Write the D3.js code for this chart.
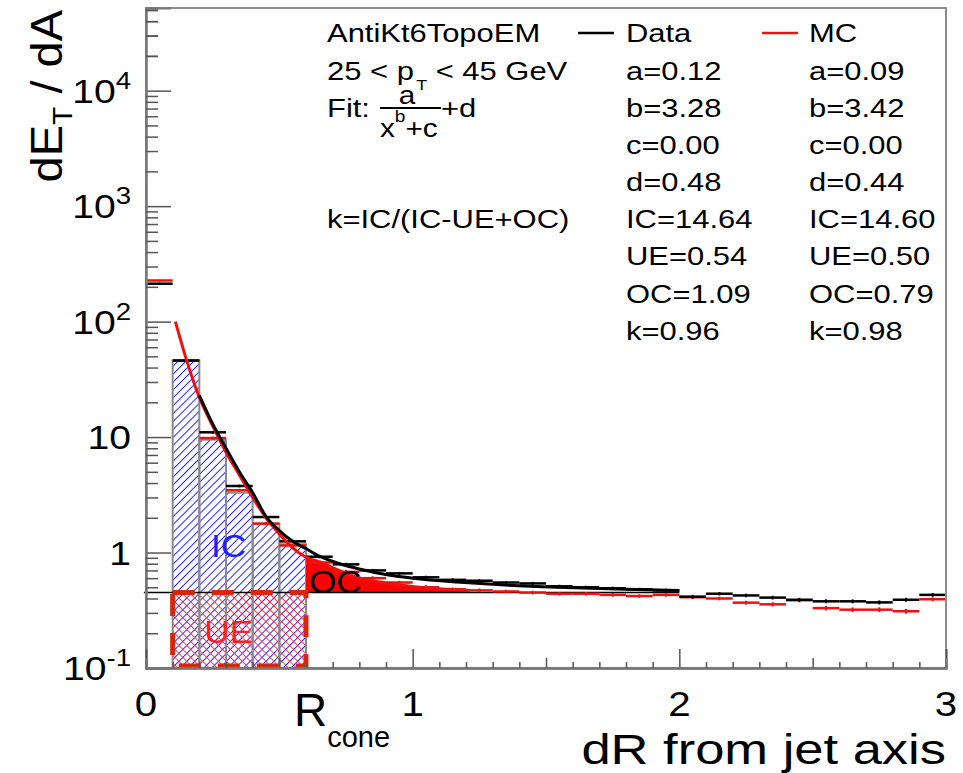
<!DOCTYPE html>
<html>
<head>
<meta charset="utf-8">
<script src="https://cdn.jsdelivr.net/npm/d3@7/dist/d3.min.js"></script>
<style>
body { margin: 0; background: #fff; }
text { font-family: "Liberation Sans", Arial, Helvetica, sans-serif; }
</style>
</head>
<body>
<svg id="chart" width="963" height="773"></svg>
<script>
// bins in dR (lower edges), width 0.1
const binLow = [0.0, 0.1, 0.2, 0.3, 0.4, 0.5, 0.6, 0.7, 0.8, 0.9,
                1.0, 1.1, 1.2, 1.3, 1.4, 1.5, 1.6, 1.7, 1.8, 1.9,
                2.0, 2.1, 2.2, 2.3, 2.4, 2.5, 2.6, 2.7, 2.8, 2.9];
const binWidth = 0.1;

const dataVals = [213, 46, 11.0, 3.77, 2.03, 1.25, 0.92, 0.79, 0.70, 0.66,
                  0.61, 0.58, 0.57, 0.55, 0.54, 0.51, 0.50, 0.49, 0.48, 0.47,
                  0.415, 0.44, 0.425, 0.407, 0.39, 0.378, 0.378, 0.37, 0.39, 0.43];
const dataErr  = [4, 1.2, 0.3, 0.1, 0.06, 0.04, 0.03, 0.025, 0.022, 0.02,
                  0.02, 0.018, 0.018, 0.017, 0.017, 0.016, 0.016, 0.016, 0.015, 0.015,
                  0.015, 0.015, 0.015, 0.015, 0.015, 0.015, 0.015, 0.015, 0.015, 0.016];
const mcVals   = [227, 46, 9.8, 3.46, 1.78, 1.15, 0.82, 0.68, 0.60, 0.55,
                  0.50, 0.48, 0.47, 0.46, 0.45, 0.44, 0.44, 0.43, 0.42, 0.43,
                  0.41, 0.40, 0.368, 0.356, 0.386, 0.33, 0.32, 0.32, 0.31, 0.394];
const mcErr    = [4, 1.2, 0.3, 0.1, 0.06, 0.04, 0.03, 0.025, 0.022, 0.02,
                  0.02, 0.018, 0.018, 0.017, 0.017, 0.016, 0.016, 0.016, 0.015, 0.015,
                  0.015, 0.015, 0.015, 0.015, 0.015, 0.015, 0.015, 0.015, 0.015, 0.016];

// in-cone histogram (hatched)
const icLow  = [0.1, 0.2, 0.3, 0.4, 0.5];
const icVals = [46, 9.5, 3.3, 1.78, 1.18];

// fit curves
const mcFitX = [0.11, 0.15, 0.2, 0.25, 0.3, 0.35, 0.4, 0.45, 0.5, 0.55, 0.6, 0.664, 0.7, 0.79, 0.915, 1.065, 1.215];
const mcFitY = [100, 48, 22, 12.5, 7.4, 4.7, 3.0, 2.0, 1.45, 1.1, 0.91, 0.81, 0.74, 0.61, 0.54, 0.49, 0.47];
const dataFitX = [0.2, 0.25, 0.3, 0.35, 0.4, 0.45, 0.5, 0.55, 0.6, 0.65, 0.727, 0.8, 0.915, 1.0, 1.165, 1.3, 1.54, 1.8, 2.0];
const dataFitY = [23, 13, 8, 5.0, 3.3, 2.05, 1.55, 1.25, 1.08, 0.93, 0.80, 0.72, 0.635, 0.6, 0.556, 0.53, 0.50, 0.48, 0.47];

const ueLevel = 0.45;
const rCone = 0.6;
const ocEnd = 1.215;

const dataLabels = ['a=0.12', 'b=3.28', 'c=0.00', 'd=0.48', 'IC=14.64', 'UE=0.54', 'OC=1.09', 'k=0.96'];
const mcLabels   = ['a=0.09', 'b=3.42', 'c=0.00', 'd=0.44', 'IC=14.60', 'UE=0.50', 'OC=0.79', 'k=0.98'];

const yMajor = [0.1, 1, 10, 100, 1000, 10000];
const yLabels = [['10', '-1'], ['1', ''], ['10', ''], ['10', '2'], ['10', '3'], ['10', '4']];
const xMajor = [0, 1, 2, 3];

const margin = {left: 146, right: 17, top: 8, bottom: 105};
const width = 963, height = 773;

const svg = d3.select('#chart');

const x = d3.scaleLinear().domain([0, 3]).range([margin.left, width - margin.right]);
const y = d3.scaleLog().domain([0.1, 52000]).range([height - margin.bottom, margin.top]);

// patterns
const defs = svg.append('defs');
defs.append('pattern')
    .attr('id', 'blueHatch').attr('patternUnits', 'userSpaceOnUse')
    .attr('width', 5.6).attr('height', 6).attr('patternTransform', 'rotate(45)')
    .append('line').attr('x1', 0).attr('y1', 0).attr('x2', 0).attr('y2', 6)
    .attr('stroke', '#2525ff').attr('stroke-width', 2);
defs.append('pattern')
    .attr('id', 'redHatch').attr('patternUnits', 'userSpaceOnUse')
    .attr('width', 5.6).attr('height', 6).attr('patternTransform', 'rotate(-45)')
    .append('line').attr('x1', 0).attr('y1', 0).attr('x2', 0).attr('y2', 6)
    .attr('stroke', '#ff3030').attr('stroke-width', 1.8);

svg.append('clipPath').attr('id', 'frameClip')
    .append('rect')
    .attr('x', margin.left).attr('y', margin.top)
    .attr('width', width - margin.left - margin.right)
    .attr('height', height - margin.top - margin.bottom);

const plot = svg.append('g');

// IC bars
plot.selectAll('.icbar')
    .data(icLow)
    .enter()
    .append('rect')
    .attr('class', 'icbar')
    .attr('x', d => x(d))
    .attr('y', (d, i) => y(icVals[i]))
    .attr('width', x(binWidth) - x(0))
    .attr('height', (d, i) => y(0.1) - y(icVals[i]))
    .style('fill', 'url(#blueHatch)');

// UE region (cross hatch)
plot.append('rect')
    .attr('x', x(icLow[0]))
    .attr('y', y(ueLevel))
    .attr('width', x(rCone) - x(icLow[0]))
    .attr('height', y(0.1) - y(ueLevel))
    .style('fill', 'url(#redHatch)');

plot.selectAll('.icout')
    .data(icLow)
    .enter()
    .append('rect')
    .attr('class', 'icout')
    .attr('x', d => x(d))
    .attr('y', (d, i) => y(icVals[i]))
    .attr('width', x(binWidth) - x(0))
    .attr('height', (d, i) => y(0.1) - y(icVals[i]))
    .style('fill', 'none')
    .style('stroke', '#8a8a8a')
    .style('stroke-width', 2);

// OC fill
const ocPts = mcFitX.map((d, i) => [d, mcFitY[i]]).filter(p => p[0] >= rCone && p[0] <= ocEnd);
plot.append('path')
    .datum(ocPts)
    .attr('d', d3.area().x(p => x(p[0])).y0(y(ueLevel)).y1(p => y(p[1])))
    .style('fill', '#ff0000');

// UE level line
plot.append('line')
    .attr('x1', x(-0.008)).attr('x2', x(2.0))
    .attr('y1', y(ueLevel)).attr('y2', y(ueLevel))
    .style('stroke', '#000').style('stroke-width', 1.5);

// points
function drawPoints(vals, errs, color) {
    const g = plot.append('g').attr('clip-path', 'url(#frameClip)');
    g.selectAll('.h').data(binLow).enter().append('line')
        .attr('x1', d => x(d)).attr('x2', d => x(d + binWidth))
        .attr('y1', (d, i) => y(vals[i])).attr('y2', (d, i) => y(vals[i]))
        .style('stroke', color).style('stroke-width', 2.5);
    g.selectAll('.v').data(binLow).enter().append('line')
        .attr('x1', d => x(d + binWidth / 2)).attr('x2', d => x(d + binWidth / 2))
        .attr('y1', (d, i) => y(vals[i] - errs[i])).attr('y2', (d, i) => y(vals[i] + errs[i]))
        .style('stroke', color).style('stroke-width', 2);
}
drawPoints(mcVals, mcErr, '#f01010');
drawPoints(dataVals, dataErr, '#000');

// fit curves
const fitLine = d3.line().x(p => x(p[0])).y(p => y(p[1])).curve(d3.curveMonotoneX);
plot.append('path')
    .datum(mcFitX.map((d, i) => [d, mcFitY[i]]))
    .attr('d', fitLine)
    .style('fill', 'none').style('stroke', '#f01010').style('stroke-width', 3);
plot.append('path')
    .datum(dataFitX.map((d, i) => [d, dataFitY[i]]))
    .attr('d', fitLine)
    .style('fill', 'none').style('stroke', '#000').style('stroke-width', 3);

// UE dashed box
plot.append('rect')
    .attr('x', x(icLow[0]))
    .attr('y', y(ueLevel))
    .attr('width', x(rCone) - x(icLow[0]))
    .attr('height', y(0.1) - y(ueLevel) - 2)
    .style('fill', 'none')
    .style('stroke', '#d8260a')
    .style('stroke-width', 5)
    .style('stroke-dasharray', '22,17');

// frame
svg.append('rect')
    .attr('x', margin.left).attr('y', margin.top)
    .attr('width', width - margin.left - margin.right)
    .attr('height', height - margin.top - margin.bottom)
    .style('fill', 'none').style('stroke', '#8c8c8c').style('stroke-width', 2);

// axes with inside ticks
const yMinor = y.ticks().filter(t => yMajor.indexOf(t) < 0).concat([20000, 30000, 40000, 50000]);
const yAxisMajor = svg.append('g').attr('transform', `translate(${margin.left},0)`)
    .call(d3.axisLeft(y).tickValues(yMajor).tickSize(-25).tickFormat(''));
const yAxisMinor = svg.append('g').attr('transform', `translate(${margin.left},0)`)
    .call(d3.axisLeft(y).tickValues(yMinor).tickSize(-12).tickFormat(''));
const xAxisMajor = svg.append('g').attr('transform', `translate(0,${height - margin.bottom})`)
    .call(d3.axisBottom(x).tickValues(xMajor).tickSize(-19).tickFormat(''));
const xAxisHalf = svg.append('g').attr('transform', `translate(0,${height - margin.bottom})`)
    .call(d3.axisBottom(x).tickValues([0.5, 1.5, 2.5]).tickSize(-10).tickFormat(''));
const xAxisMinor = svg.append('g').attr('transform', `translate(0,${height - margin.bottom})`)
    .call(d3.axisBottom(x).tickValues(x.ticks(30).filter(t => Math.abs(t * 2 - Math.round(t * 2)) > 1e-6)).tickSize(-6).tickFormat(''));
[yAxisMajor, yAxisMinor, xAxisMajor, xAxisHalf, xAxisMinor].forEach(a => {
    a.select('.domain').style('stroke', '#777').style('stroke-width', 2);
    a.selectAll('.tick line').style('stroke', '#555').style('stroke-width', 1.5);
});

// text helper, stretched horizontally like the picture's font
function addText(px, py, size, sx, anchor, color) {
    return svg.append('text')
        .attr('transform', `translate(${px},${py}) scale(${sx},1)`)
        .attr('text-anchor', anchor || 'start')
        .style('font-size', size + 'px')
        .style('fill', color || '#000');
}

// y tick labels
yMajor.forEach((v, i) => {
    const t = addText(131, y(v) + 12, 34, 1.15, 'end');
    t.append('tspan').text(yLabels[i][0]);
    if (yLabels[i][1]) t.append('tspan').attr('dy', -14).style('font-size', '24px').text(yLabels[i][1]);
});
// x tick labels
xMajor.forEach(v => {
    addText(x(v), 716, 35, 1.15, 'middle').text(v);
});

// axis titles
const yt = svg.append('text')
    .attr('transform', 'translate(62,10) rotate(-90) scale(1,0.95)')
    .attr('text-anchor', 'end')
    .style('font-size', '47px');
yt.append('tspan').text('dE');
yt.append('tspan').attr('dy', 11).style('font-size', '30px').text('T');
yt.append('tspan').attr('dy', -11).text(' / dA');

addText(width - margin.right, 764, 42, 1.25, 'end').text('dR from jet axis');
const rc = addText(294, 726, 46, 1.0, 'start');
rc.append('tspan').text('R');
rc.append('tspan').attr('dy', 21).style('font-size', '29px').text('cone');

// region labels
addText(x(0.31), 557, 32, 1.1, 'middle', '#2020ff').text('IC');
addText(x(0.31), 643, 32, 1.1, 'middle', '#ff2020').text('UE');
addText(x(rCone) + 3, 593, 32, 1.1, 'start', '#000').text('OC');

// info block
const rowY = [42, 80, 117, 154, 191, 228, 265, 303, 340];
const fs = 26, sx = 1.19;
addText(327, rowY[0], fs, sx).text('AntiKt6TopoEM');
const pt = addText(327, rowY[1], fs, sx);
pt.append('tspan').text('25 < p');
pt.append('tspan').attr('dx', 2).attr('dy', 10).style('font-size', '15px').text('T');
pt.append('tspan').attr('dy', -10).text(' < 45 GeV');
addText(327, rowY[2], fs, sx).text('Fit:');
// fraction
svg.append('line').attr('x1', 380).attr('x2', 441).attr('y1', 108).attr('y2', 108)
    .style('stroke', '#000').style('stroke-width', 2);
addText(407, 104, 25, sx, 'middle').text('a');
const den = addText(380, 137, 25, sx, 'start');
den.append('tspan').text('x');
den.append('tspan').attr('dy', -15).style('font-size', '16px').text('b');
den.append('tspan').attr('dy', 15).text('+c');
addText(441, rowY[2], fs, sx).text('+d');
addText(327, rowY[5], fs, sx).text('k=IC/(IC-UE+OC)');

// legend lines
svg.append('line').attr('x1', 578).attr('x2', 614).attr('y1', 33).attr('y2', 33)
    .style('stroke', '#000').style('stroke-width', 2.5);
svg.append('line').attr('x1', 762).attr('x2', 798).attr('y1', 33).attr('y2', 33)
    .style('stroke', '#f01010').style('stroke-width', 2.5);
addText(626, rowY[0], fs, sx).text('Data');
addText(809, rowY[0], fs, sx).text('MC');
dataLabels.forEach((s, i) => addText(626, rowY[i + 1], fs, sx).text(s));
mcLabels.forEach((s, i) => addText(809, rowY[i + 1], fs, sx).text(s));
</script>
</body>
</html>
